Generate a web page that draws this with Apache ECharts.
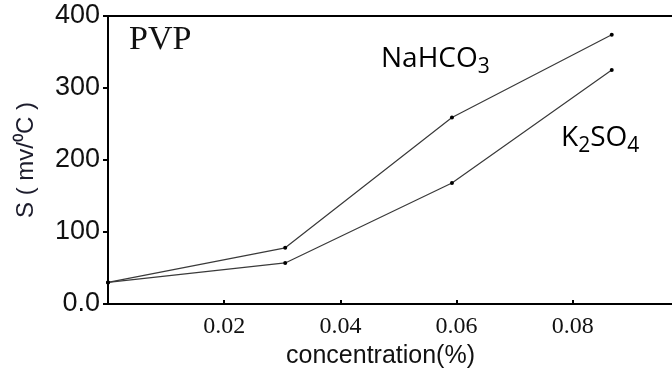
<!DOCTYPE html>
<html>
<head>
<meta charset="utf-8">
<script src="https://cdn.jsdelivr.net/npm/echarts@6/dist/echarts.min.js"></script>
<style>
  html, body { margin: 0; padding: 0; background: #fff; }
  #chart { width: 672px; height: 374px; }
</style>
</head>
<body>
<div id="chart"></div>
<script>
// Sensitivity S versus PVP concentration for two salt additions
const concentration = [0, 0.0305, 0.0592, 0.0867];
const nahco3 = [30, 78, 259, 374];
const k2so4 = [30, 57, 168, 325];
const xTicks = [0.02, 0.04, 0.06, 0.08];
const yTicks = [0, 100, 200, 300, 400];

const pairs = (xs, ys) => xs.map((x, i) => [x, ys[i]]);

const chart = echarts.init(document.getElementById('chart'), null, { renderer: 'canvas' });

const lineStyle = { color: '#3a3a3a', width: 1.2 };
const dotStyle = { color: '#000' };

const formulaRich = {
  a: { fontFamily: 'Open Sans', fontSize: 28, color: '#111', verticalAlign: 'top', lineHeight: 34 },
  s: { fontFamily: 'Open Sans', fontSize: 21, color: '#111', verticalAlign: 'top', lineHeight: 34, padding: [12, 0, 0, 0] }
};

chart.setOption({
  animation: false,
  backgroundColor: '#fff',
  grid: {
    left: 108, top: 16, width: 581, height: 288,
    outerBoundsMode: 'none', containLabel: false,
    show: true, borderColor: '#000', borderWidth: 2, backgroundColor: 'transparent'
  },
  xAxis: {
    type: 'value', min: 0, max: 0.1, interval: 0.02,
    name: 'concentration(%)',
    nameLocation: 'middle', nameGap: 39,
    nameTextStyle: { fontFamily: 'Liberation Sans', fontSize: 25, color: '#111', padding: [0, 36, 0, 0] },
    axisLine: { show: true, lineStyle: { color: '#000', width: 2 } },
    axisTick: { show: true, inside: true, length: 4, lineStyle: { color: '#000', width: 2 } },
    splitLine: { show: false },
    axisLabel: {
      margin: 11, fontFamily: 'Liberation Serif', fontSize: 24, color: '#111',
      formatter: v => xTicks.some(t => Math.abs(t - v) < 1e-9) ? v.toFixed(2) : ''
    }
  },
  yAxis: {
    type: 'value', min: yTicks[0], max: yTicks[yTicks.length - 1], interval: 100,
    name: 'S ( mv/\u2070C )',
    nameLocation: 'middle', nameGap: 70, nameRotate: 90,
    nameTextStyle: { fontFamily: 'Liberation Sans', fontSize: 24, color: '#1c1c2c' },
    axisLine: { show: true, lineStyle: { color: '#000', width: 2 } },
    axisTick: { show: true, inside: false, length: 5, lineStyle: { color: '#000', width: 2 } },
    splitLine: { show: false },
    axisLabel: {
      margin: 8, fontFamily: 'Liberation Sans', fontSize: 27, color: '#111',
      formatter: v => v === 0 ? '0.0' : String(v)
    }
  },
  series: [
    {
      name: 'NaHCO3', type: 'line', data: pairs(concentration, nahco3),
      symbol: 'circle', symbolSize: 4, lineStyle, itemStyle: dotStyle
    },
    {
      name: 'K2SO4', type: 'line', data: pairs(concentration, k2so4),
      symbol: 'circle', symbolSize: 4, lineStyle, itemStyle: dotStyle
    }
  ],
  graphic: [
    {
      type: 'text', left: 129, top: 23,
      style: { text: 'PVP', font: '34px "Liberation Serif"', fill: '#111' }
    },
    {
      type: 'text', left: 381, top: 45,
      style: { text: '{a|NaHCO}{s|3}', rich: formulaRich }
    },
    {
      type: 'text', left: 561, top: 124,
      style: { text: '{a|K}{s|2}{a|SO}{s|4}', rich: formulaRich }
    }
  ]
});
</script>
</body>
</html>
